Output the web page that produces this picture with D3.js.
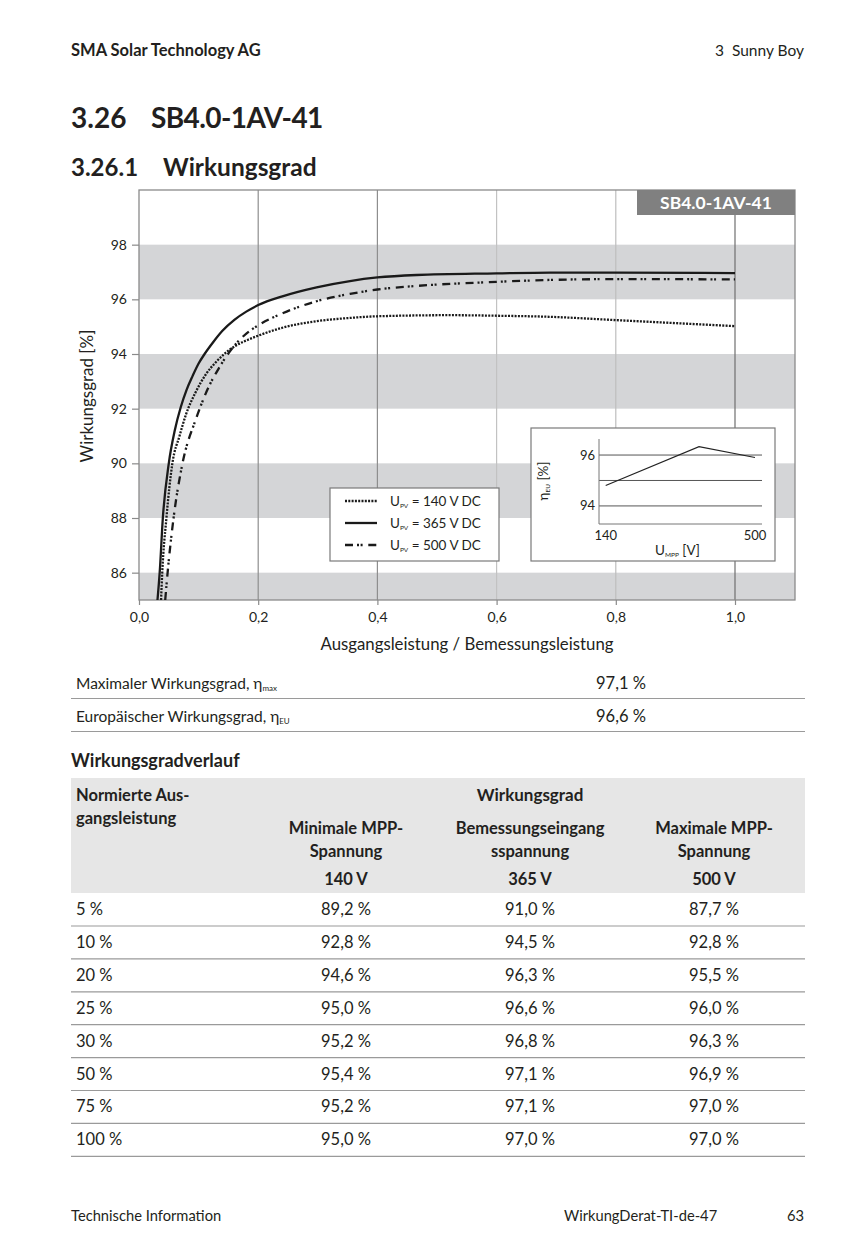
<!DOCTYPE html>
<html><head><meta charset="utf-8">
<script src="https://cdn.jsdelivr.net/npm/d3@7"></script>
<style>
html,body{margin:0;padding:0;background:#fff;}
svg text{font-family:Lato,"Open Sans",sans-serif;}
</style></head>
<body>
<svg id="page" width="849" height="1244"></svg>
<script>
// ---------- data ----------
const xTicks = [0, 0.2, 0.4, 0.6, 0.8, 1.0];
const xTickLabels = ["0,0", "0,2", "0,4", "0,6", "0,8", "1,0"];
const yTicks = [86, 88, 90, 92, 94, 96, 98];
const bands = [[84, 86], [88, 90], [92, 94], [96, 98]];

const series140 = [[0.037,85],[0.039,86],[0.046,88],[0.056,90],[0.068,91.0],[0.079,91.8],[0.095,92.6],[0.112,93.25],[0.128,93.68],[0.143,94.0],[0.162,94.3],[0.186,94.55],[0.2,94.67],[0.242,94.97],[0.298,95.2],[0.354,95.32],[0.4,95.38],[0.522,95.42],[0.6,95.40],[0.69,95.36],[0.8,95.24],[0.9,95.13],[1.0,95.02]];
const series365 = [[0.031,85],[0.0347,86],[0.040,88],[0.050,90],[0.060,91.2],[0.070,92.05],[0.080,92.7],[0.090,93.2],[0.100,93.65],[0.110,94.0],[0.125,94.45],[0.140,94.85],[0.160,95.25],[0.180,95.55],[0.2,95.79],[0.242,96.12],[0.298,96.44],[0.354,96.67],[0.4,96.8],[0.466,96.89],[0.6,96.95],[0.69,96.98],[0.8,96.98],[1.0,96.96]];
const series500 = [[0.044,85],[0.048,86],[0.058,88],[0.073,90],[0.095,91.59],[0.103,92.07],[0.117,92.8],[0.134,93.48],[0.151,94.05],[0.168,94.5],[0.185,94.83],[0.2,95.05],[0.242,95.5],[0.298,95.93],[0.354,96.2],[0.4,96.36],[0.466,96.49],[0.6,96.64],[0.69,96.71],[0.8,96.74],[1.0,96.73]];
const seriesNames = ["140 V DC", "365 V DC", "500 V DC"];

const insetVoltages = [140, 365, 500];
const insetEta = [94.8, 96.33, 95.9];
const insetYTicks = [94, 95, 96];
const insetYTickLabels = {94: "94", 96: "96"};
const insetXTicks = [140, 500];

const specLabels = ["Maximaler Wirkungsgrad, η", "Europäischer Wirkungsgrad, η"];
const specSubs = ["max", "EU"];
const specValues = ["97,1 %", "96,6 %"];

const rowLabels = ["5 %", "10 %", "20 %", "25 %", "30 %", "50 %", "75 %", "100 %"];
const col140 = ["89,2 %", "92,8 %", "94,6 %", "95,0 %", "95,2 %", "95,4 %", "95,2 %", "95,0 %"];
const col365 = ["91,0 %", "94,5 %", "96,3 %", "96,6 %", "96,8 %", "97,1 %", "97,1 %", "97,0 %"];
const col500 = ["87,7 %", "92,8 %", "95,5 %", "96,0 %", "96,3 %", "96,9 %", "97,0 %", "97,0 %"];
const colHeads = [["Minimale MPP-", "Spannung", "140 V"], ["Bemessungseingang", "sspannung", "365 V"], ["Maximale MPP-", "Spannung", "500 V"]];

// ---------- page ----------
const svg = d3.select("#page");
const ink = "#231f20";

// header
svg.append("text").attr("x", 71).attr("y", 56).attr("font-size", 16.5).attr("font-weight", 700).attr("fill", ink).text("SMA Solar Technology AG");
svg.append("text").attr("x", 804).attr("y", 56).attr("text-anchor", "end").attr("font-size", 15.5).attr("fill", ink).attr("xml:space", "preserve").text("3  Sunny Boy");
svg.append("text").attr("x", 71).attr("y", 128).attr("font-size", 28).attr("font-weight", 700).attr("fill", ink).text("3.26");
svg.append("text").attr("x", 151).attr("y", 128).attr("font-size", 28).attr("font-weight", 700).attr("fill", ink).attr("letter-spacing", -0.6).text("SB4.0-1AV-41");
svg.append("text").attr("x", 71).attr("y", 176).attr("font-size", 24).attr("font-weight", 700).attr("fill", ink).text("3.26.1");
svg.append("text").attr("x", 163).attr("y", 176).attr("font-size", 24.5).attr("font-weight", 700).attr("fill", ink).text("Wirkungsgrad");

// ---------- main chart ----------
const L = 139, R = 795, T = 190, B = 600;
const x = d3.scaleLinear().domain([0, 1.1]).range([L, L + 596 * 1.1]);
const y = d3.scaleLinear().domain([85, 100]).range([B, T]);

const g = svg.append("g");
g.append("defs").append("clipPath").attr("id", "plotclip").append("rect")
  .attr("x", L).attr("y", T).attr("width", R - L).attr("height", B - T);

g.selectAll("rect.band").data(bands).join("rect").attr("class", "band")
  .attr("x", L).attr("width", R - L)
  .attr("y", d => y(Math.min(d[1], 100)))
  .attr("height", d => y(Math.max(d[0], 85)) - y(Math.min(d[1], 100)))
  .attr("fill", "#d4d5d7");

// vertical grid
const gridColor = {0.2: "#8e8e8e", 0.4: "#8e8e8e", 0.6: "#c2c2c2", 0.8: "#bdbdbd"};
g.selectAll("line.vg").data([0.2, 0.4, 0.6, 0.8]).join("line").attr("class", "vg")
  .attr("x1", d => x(d)).attr("x2", d => x(d)).attr("y1", T).attr("y2", B)
  .attr("stroke", d => gridColor[d]).attr("stroke-width", 1.2);
g.append("line").attr("x1", x(1.0)).attr("x2", x(1.0)).attr("y1", T + 25).attr("y2", B)
  .attr("stroke", "#6f6f6f").attr("stroke-width", 1.2);

// frame
g.append("rect").attr("x", L).attr("y", T).attr("width", R - L).attr("height", B - T)
  .attr("fill", "none").attr("stroke", "#8a8a8a").attr("stroke-width", 1.3);

// axes
const yAxis = d3.axisLeft(y).tickValues(yTicks).tickSize(7).tickPadding(5).tickFormat(d3.format("d"));
const ya = g.append("g").attr("transform", `translate(${L},0)`).call(yAxis);
const xAxis = d3.axisBottom(x).tickValues(xTicks).tickSize(5).tickPadding(7).tickFormat((d, i) => xTickLabels[i]);
const xa = g.append("g").attr("transform", `translate(0,${B})`).call(xAxis);
[ya, xa].forEach(a => {
  a.select(".domain").remove();
  a.selectAll("line").attr("stroke", "#8a8a8a").attr("stroke-width", 1.2);
  a.selectAll("text").attr("font-size", 14).attr("fill", ink).attr("font-family", "Lato, sans-serif");
});

// title box
g.append("rect").attr("x", 637).attr("y", T).attr("width", R - 637).attr("height", 25).attr("fill", "#808080");
g.append("text").attr("x", 716).attr("y", T + 18.5).attr("text-anchor", "middle").attr("font-size", 17.5).attr("font-weight", 700).attr("fill", "#fff").text("SB4.0-1AV-41");

// axis labels
g.append("text").attr("x", 467).attr("y", 650).attr("text-anchor", "middle").attr("font-size", 16.8).attr("fill", ink).text("Ausgangsleistung / Bemessungsleistung");
g.append("text").attr("transform", "translate(93,396) rotate(-90)").attr("text-anchor", "middle").attr("font-size", 17).attr("fill", ink).text("Wirkungsgrad [%]");

// curves
const styles = [
  {dash: "2,1.3", width: 2.3},
  {dash: null, width: 2.3},
  {dash: "8,4,2,1.6,2,5.7", width: 2.3}
];
const line = d3.line().x(d => x(d[0])).y(d => y(d[1])).curve(d3.curveMonotoneX);
const curves = g.append("g").attr("clip-path", "url(#plotclip)");
[series140, series365, series500].forEach((s, i) => {
  curves.append("path").datum(s).attr("d", line).attr("fill", "none")
    .attr("stroke", "#1a1a1a").attr("stroke-width", styles[i].width)
    .attr("stroke-dasharray", styles[i].dash);
});

// legend
const lg = g.append("g");
lg.append("rect").attr("x", 330).attr("y", 488).attr("width", 169).attr("height", 73).attr("fill", "#fff").attr("stroke", "#7a7a7a").attr("stroke-width", 1.2);
seriesNames.forEach((n, i) => {
  const yy = 501 + i * 22;
  lg.append("line").attr("x1", 345).attr("x2", 377).attr("y1", yy).attr("y2", yy)
    .attr("stroke", "#1a1a1a").attr("stroke-width", styles[i].width).attr("stroke-dasharray", styles[i].dash);
  const t = lg.append("text").attr("x", 390).attr("y", yy + 5).attr("font-size", 13.5).attr("fill", ink);
  t.append("tspan").text("U");
  t.append("tspan").attr("font-size", 6.5).attr("dy", 2).text("PV");
  t.append("tspan").attr("dy", -2).text(" = " + n);
});

// inset
const ig = g.append("g");
ig.append("rect").attr("x", 531).attr("y", 428).attr("width", 244).attr("height", 133).attr("fill", "#fff").attr("stroke", "#7a7a7a").attr("stroke-width", 1.2);
const ix = d3.scaleLinear().domain([140, 500]).range([605.7, 755]);
const iy = d3.scaleLinear().domain([93.29, 96.63]).range([524, 439]);
ig.selectAll("line.ig").data(insetYTicks).join("line").attr("class", "ig")
  .attr("x1", 599).attr("x2", 762).attr("y1", d => iy(d)).attr("y2", d => iy(d))
  .attr("stroke", "#555").attr("stroke-width", 1);
ig.append("line").attr("x1", 599).attr("x2", 599).attr("y1", 439).attr("y2", 524).attr("stroke", "#777").attr("stroke-width", 1);
ig.append("line").attr("x1", 599).attr("x2", 762).attr("y1", 524).attr("y2", 524).attr("stroke", "#777").attr("stroke-width", 1);
ig.selectAll("text.iyt").data(insetYTicks.filter(d => insetYTickLabels[d])).join("text").attr("class", "iyt")
  .attr("x", 595).attr("y", d => iy(d) + 4.5).attr("text-anchor", "end").attr("font-size", 13).attr("fill", ink).text(d => insetYTickLabels[d]);
ig.selectAll("text.ixt").data(insetXTicks).join("text").attr("class", "ixt")
  .attr("x", d => ix(d)).attr("y", 540).attr("text-anchor", "middle").attr("font-size", 13).attr("fill", ink).text(d => d);
ig.append("path").datum(insetVoltages.map((v, i) => [v, insetEta[i]]))
  .attr("d", d3.line().x(d => ix(d[0])).y(d => iy(d[1])))
  .attr("fill", "none").attr("stroke", "#222").attr("stroke-width", 1.1);
const ixl = ig.append("text").attr("x", 655).attr("y", 555).attr("font-size", 13.5).attr("fill", ink);
ixl.append("tspan").text("U");
ixl.append("tspan").attr("font-size", 6.5).attr("dy", 2).text("MPP");
ixl.append("tspan").attr("dy", -2).text(" [V]");
const iyl = ig.append("text").attr("transform", "translate(548,481) rotate(-90)").attr("text-anchor", "middle").attr("font-size", 13.5).attr("fill", ink);
iyl.append("tspan").text("η");
iyl.append("tspan").attr("font-size", 6.5).attr("dy", 2).text("EU");
iyl.append("tspan").attr("dy", -2).text(" [%]");

// ---------- spec table ----------
const tbl = svg.append("g");
specLabels.forEach((s, i) => {
  const yy = 689 + i * 33;
  const t = tbl.append("text").attr("x", 76).attr("y", yy).attr("font-size", 15.5).attr("fill", ink);
  t.append("tspan").text(s);
  t.append("tspan").attr("font-size", 8).attr("dy", 2).text(specSubs[i]);
  tbl.append("text").attr("x", 621).attr("y", yy).attr("text-anchor", "middle").attr("font-size", 16.5).attr("fill", ink).text(specValues[i]);
  tbl.append("line").attr("x1", 71).attr("x2", 805).attr("y1", 698.5 + i * 33).attr("y2", 698.5 + i * 33).attr("stroke", "#9a9a9a").attr("stroke-width", 1.2);
});

svg.append("text").attr("x", 71).attr("y", 767).attr("font-size", 18).attr("font-weight", 700).attr("fill", ink).text("Wirkungsgradverlauf");

// efficiency table
const colX = [346, 530, 714];
tbl.append("rect").attr("x", 71).attr("y", 778).attr("width", 734).attr("height", 115).attr("fill", "#e6e6e6");
tbl.append("text").attr("x", 76).attr("y", 801).attr("font-size", 16.5).attr("font-weight", 700).attr("fill", ink).text("Normierte Aus-");
tbl.append("text").attr("x", 76).attr("y", 824).attr("font-size", 16.5).attr("font-weight", 700).attr("fill", ink).text("gangsleistung");
tbl.append("text").attr("x", 530).attr("y", 801).attr("text-anchor", "middle").attr("font-size", 17).attr("font-weight", 700).attr("fill", ink).text("Wirkungsgrad");
colHeads.forEach((lines, c) => {
  lines.forEach((ln, k) => {
    tbl.append("text").attr("x", colX[c]).attr("y", [834, 857, 885][k]).attr("text-anchor", "middle")
      .attr("font-size", 16.5).attr("font-weight", 700).attr("fill", ink).text(ln);
  });
});
const rowH = 32.9;
rowLabels.forEach((r, i) => {
  const yy = 915 + i * rowH;
  tbl.append("text").attr("x", 76).attr("y", yy).attr("font-size", 16.5).attr("fill", ink).text(r);
  [col140, col365, col500].forEach((col, c) => {
    tbl.append("text").attr("x", colX[c]).attr("y", yy).attr("text-anchor", "middle").attr("font-size", 16.5).attr("fill", ink).text(col[i]);
  });
  const ly = 926 + i * rowH;
  tbl.append("line").attr("x1", 71).attr("x2", 805).attr("y1", ly).attr("y2", ly).attr("stroke", "#9a9a9a").attr("stroke-width", 1.2);
});

// footer
svg.append("text").attr("x", 71).attr("y", 1221).attr("font-size", 14.7).attr("fill", ink).text("Technische Information");
svg.append("text").attr("x", 564).attr("y", 1221).attr("font-size", 14.7).attr("fill", ink).text("WirkungDerat-TI-de-47");
svg.append("text").attr("x", 804).attr("y", 1221).attr("text-anchor", "end").attr("font-size", 14.7).attr("fill", ink).text("63");
</script>
</body></html>
